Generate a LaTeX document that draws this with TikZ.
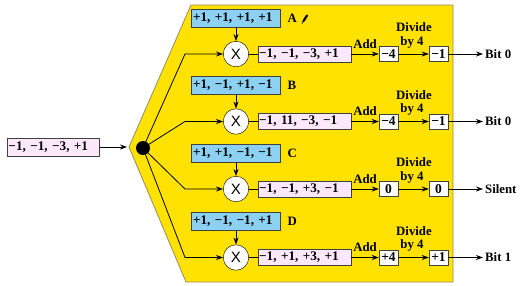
\documentclass[tikz,border=0pt]{standalone}
\usepackage{fontspec}
\setmainfont{Liberation Serif}
\newfontfamily\xfont{Liberation Sans}
\usetikzlibrary{arrows.meta}
\definecolor{codeblue}{RGB}{140,208,242}
\definecolor{respink}{RGB}{252,232,250}
\definecolor{bgyellow}{RGB}{255,226,0}
\definecolor{edgegray}{RGB}{150,140,100}
\tikzset{
  every node/.style={font=\fontsize{12.8}{14}\selectfont\bfseries},
  boxfont/.style={font=\fontsize{13.2}{15}\selectfont\bfseries},
  codebox/.style={boxfont, draw=black!75, fill=codeblue, minimum width=89pt, minimum height=18pt, inner sep=1.5pt, text width=86pt, align=left},
  resbox/.style={boxfont, draw=black!75, fill=respink, minimum width=93pt, minimum height=16pt, inner sep=1pt, text width=91pt, align=left},
  valbox/.style={font=\fontsize{13.5}{14}\selectfont\bfseries, draw=black!75, fill=white, minimum width=19pt, minimum height=15pt, inner sep=0pt},
  mult/.style={circle, draw=black, fill=white, minimum size=25.5pt, inner sep=0pt, font=\xfont\fontsize{15}{16}\selectfont},
  arr/.style={-{Stealth[length=7pt,width=5pt]}, thick},
  ln/.style={thick},
}
\begin{document}
\begin{tikzpicture}[x=1pt,y=-1pt]
\useasboundingbox (0,0) rectangle (520,285);
% yellow field
\draw[edgegray, fill=bgyellow, line width=0.8pt] (191,5) -- (453,5) -- (453,282) -- (186,282) -- (129,147) -- cycle;
% input
\node[resbox, minimum width=92pt, text width=90pt, minimum height=18pt] (in) at (53.5,147) {−1, −1, −3, +1};
\coordinate (inEnd) at (127,147);
\node[circle, fill=black, minimum size=14pt, inner sep=0pt] (dot) at (143,148) {};
\draw[arr] (in.east) -- (inEnd);
% rows
\foreach \n/\y/\code/\lab/\res/\sum/\div/\out in {
  A/54/{+1, +1, +1, +1}/A/{−1, −1, −3, +1}/−4/−1/Bit 0,
  B/121.5/{+1, −1, +1, −1}/B/{−1, 11, −3, −1}/−4/−1/Bit 0,
  C/189/{+1, +1, −1, −1}/C/{−1, −1, +3, −1}/0/0/Silent,
  D/257.5/{+1, −1, −1, +1}/D/{−1, +1, +3, +1}/+4/+1/Bit 1}{
  \node[codebox] (code\n) at (236,\y-36) {\code};
  \node[anchor=west] (lab\n) at (284,\y-36) {\lab};
  \node[mult] (m\n) at (236,\y) {X};
  \node[resbox, anchor=west] (r\n) at (258,\y) {\res};
  \node[valbox] (s\n) at (388.5,\y) {\sum};
  \node[valbox] (d\n) at (438.5,\y) {\div};
  \coordinate (o\n) at (483,\y);
  \node[anchor=west, inner sep=1pt] (t\n) at (484,\y) {\out};
  \coordinate (k\n) at (185,\y);
  \node (add\n) at (365,\y-10) {Add};
  \node[inner sep=0pt] (dv\n) at (414,\y-26.5) {Divide};
  \node[inner sep=0pt] (by\n) at (412,\y-12) {by 4};
  \draw[arr] (code\n.south) -- (m\n.north);
  \draw[arr] (dot.center) -- (k\n) -- (m\n.west);
  \draw[ln] (m\n.east) -- (r\n.west);
  \draw[arr] (r\n.east) -- (s\n.west);
  \draw[arr] (s\n.east) -- (d\n.west);
  \draw[arr] (d\n.east) -- (o\n);
}
% pencil mark
\draw[line width=2.2pt, line cap=round] (303.5,21) -- (307,15.5);
\draw[line width=0.8pt] (302,23.5) -- (303.5,21);
\end{tikzpicture}
\end{document}
